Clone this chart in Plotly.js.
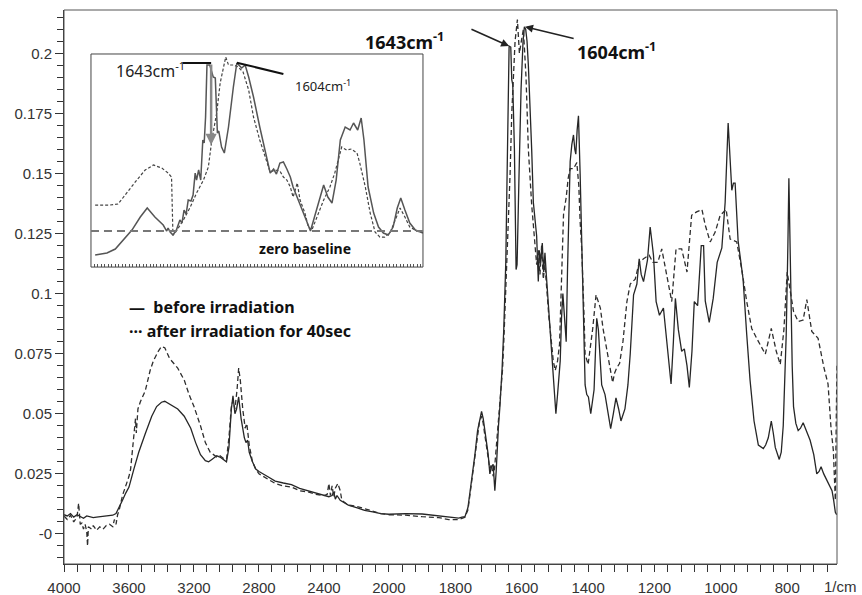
<!DOCTYPE html>
<html>
<head>
<meta charset="utf-8">
<script src="https://cdn.plot.ly/plotly-3.0.1.min.js"></script>
<style>html,body{margin:0;padding:0;background:#fff;}#chart{width:862px;height:595px;}</style>
</head>
<body>
<div id="chart"></div>
<script>
// ---- Main spectrum: before irradiation (solid) ----
const beforeWn = [4000,3980,3960,3940,3920,3900,3880,3860,3840,3820,3800,3780,3760,3740,3720,3700,3680,3660,3640,3620,3600,3570,3540,3500,3460,3430,3400,3380,3350,3300,3260,3220,3190,3160,3130,3110,3090,3060,3040,3020,3000,2985,2970,2960,2948,2938,2925,2910,2890,2880,2870,2860,2840,2820,2800,2750,2700,2650,2600,2550,2500,2450,2400,2370,2350,2340,2330,2320,2300,2250,2200,2150,2100,2050,2000,
1950,1900,1850,1800,1790,1780,1771,1762,1756,1748,1741,1733,1728,1721,1716,1711,1706,1701,1696,1691,1686,1683,1681,1677,1674,1670,1666,1662,1659,1654,1650,1648,1645,1641,1638,1633,1630,1627,1622,1617,1614,1608,1602,1596,1592,1588,1584,1580,1575,1570,1565,1560,1555,1550,1547,1543,1538,1534,1530,1526,1522,1518,1513,1508,1502,1497,1492,1487,1484,1480,1476,1471,1466,1462,1458,1454,1449,1444,1440,1437,1433,1429,1424,1419,1414,1409,1404,1399,1392,1386,1382,1378,1374,1369,1364,1359,1349,1340,1332,1324,1316,1308,1301,1289,1280,1273,1263,1253,1246,1240,1233,1221,1213,1208,1203,1195,1185,1173,1163,1156,1150,1143,1137,1128,1118,1110,1102,1095,1087,1080,1070,1059,1052,1047,1035,1023,1011,997,987,978,972,967,962,957,948,933,922,912,900,887,872,865,857,848,842,836,824,818,812,806,803,798,795,792,789,785,781,774,767,760,752,745,738,731,720,711,704,698,690,680,672,665,660,655,651];
const beforeAbs = [0.008,0.0075,0.0085,0.007,0.008,0.0072,0.0065,0.0075,0.007,0.0068,0.007,0.0072,0.0071,0.0073,0.0075,0.0078,0.0085,0.011,0.014,0.017,0.0195,0.027,0.034,0.0417,0.049,0.053,0.0548,0.0552,0.054,0.052,0.049,0.044,0.038,0.033,0.0305,0.030,0.031,0.0325,0.032,0.031,0.030,0.036,0.052,0.0575,0.050,0.052,0.057,0.048,0.040,0.038,0.039,0.034,0.030,0.027,0.026,0.024,0.022,0.0212,0.0205,0.019,0.018,0.017,0.016,0.0155,0.016,0.0175,0.0145,0.016,0.014,0.012,0.011,0.0098,0.0092,0.0085,0.0082,
0.0085,0.0083,0.0075,0.0068,0.0066,0.0070,0.0072,0.011,0.017,0.025,0.033,0.043,0.047,0.051,0.048,0.043,0.038,0.033,0.025,0.028,0.029,0.022,0.018,0.026,0.036,0.045,0.0525,0.060,0.069,0.0855,0.100,0.113,0.141,0.190,0.203,0.2026,0.189,0.187,0.160,0.110,0.112,0.150,0.185,0.205,0.211,0.210,0.205,0.195,0.179,0.160,0.138,0.130,0.124,0.105,0.118,0.113,0.121,0.109,0.117,0.108,0.100,0.094,0.082,0.070,0.058,0.050,0.058,0.066,0.072,0.090,0.100,0.090,0.080,0.110,0.140,0.155,0.162,0.166,0.160,0.158,0.168,0.174,0.150,0.124,0.090,0.062,0.058,0.057,0.050,0.055,0.060,0.075,0.0897,0.085,0.072,0.062,0.058,0.050,0.0438,0.050,0.0566,0.052,0.047,0.052,0.062,0.075,0.0995,0.104,0.1145,0.108,0.105,0.114,0.1277,0.122,0.116,0.0967,0.091,0.094,0.080,0.070,0.0624,0.080,0.098,0.085,0.076,0.077,0.070,0.061,0.076,0.0967,0.095,0.120,0.120,0.097,0.088,0.098,0.113,0.119,0.138,0.171,0.157,0.143,0.146,0.146,0.122,0.106,0.083,0.064,0.047,0.037,0.0355,0.037,0.040,0.047,0.042,0.036,0.031,0.034,0.045,0.070,0.083,0.120,0.148,0.125,0.097,0.070,0.053,0.046,0.043,0.044,0.0463,0.044,0.042,0.039,0.033,0.025,0.026,0.028,0.025,0.022,0.020,0.018,0.014,0.009,0.008];

// ---- Main spectrum: after irradiation for 40 sec (dashed) ----
const afterWn = [4000,3980,3960,3940,3920,3910,3900,3890,3880,3870,3860,3855,3850,3830,3820,3800,3780,3760,3740,3720,3700,3690,3680,3670,3660,3640,3620,3600,3590,3580,3570,3560,3555,3545,3530,3500,3470,3450,3420,3400,3380,3350,3300,3260,3230,3200,3160,3130,3100,3080,3060,3040,3020,3000,2985,2970,2960,2948,2935,2925,2915,2900,2885,2875,2860,2840,2820,2800,2750,2700,2650,2600,2550,2500,2450,2400,2380,2370,2360,2350,2340,2330,2315,2300,2290,2250,2200,2150,2100,2050,2000,
1950,1900,1850,1820,1800,1790,1780,1771,1762,1756,1748,1741,1733,1728,1721,1716,1711,1706,1701,1696,1691,1686,1682,1677,1674,1670,1666,1662,1658,1654,1650,1645,1640,1635,1630,1625,1620,1613,1607,1600,1595,1587,1580,1570,1560,1555,1550,1545,1540,1535,1530,1524,1518,1512,1505,1499,1492,1486,1479,1474,1466,1460,1454,1444,1434,1428,1424,1419,1412,1409,1400,1393,1386,1376,1369,1363,1355,1345,1335,1326,1320,1314,1305,1295,1283,1273,1258,1246,1233,1216,1205,1190,1178,1163,1148,1135,1118,1102,1088,1073,1057,1047,1032,1017,1002,984,972,952,937,922,907,892,866,848,833,821,810,800,795,781,767,752,741,726,707,689,677,668,661,655,652,650];
const afterAbs = [0.0075,0.006,0.0078,0.005,0.007,0.0128,0.004,0.0045,0.002,0.004,0.001,-0.005,0.003,0.002,0.0035,0.0015,0.003,0.002,0.0035,0.004,0.003,0.006,0.004,0.008,0.010,0.016,0.020,0.024,0.027,0.034,0.040,0.048,0.042,0.052,0.055,0.0595,0.068,0.072,0.076,0.078,0.0775,0.073,0.069,0.064,0.058,0.053,0.045,0.038,0.034,0.033,0.032,0.0325,0.0315,0.031,0.040,0.053,0.0555,0.052,0.060,0.069,0.064,0.052,0.044,0.046,0.037,0.030,0.027,0.025,0.023,0.021,0.020,0.0195,0.018,0.0175,0.0165,0.016,0.0165,0.021,0.016,0.020,0.0155,0.019,0.021,0.018,0.014,0.012,0.0115,0.0105,0.0095,0.0085,0.008,
0.0078,0.0072,0.0068,0.006,0.0062,0.0060,0.0065,0.0070,0.010,0.016,0.024,0.032,0.041,0.046,0.049,0.046,0.041,0.036,0.030,0.027,0.029,0.024,0.027,0.035,0.040,0.048,0.055,0.060,0.068,0.080,0.095,0.110,0.125,0.150,0.175,0.189,0.205,0.214,0.200,0.206,0.210,0.190,0.160,0.137,0.118,0.112,0.118,0.108,0.120,0.106,0.112,0.100,0.090,0.082,0.072,0.068,0.072,0.079,0.106,0.133,0.140,0.148,0.152,0.152,0.1545,0.145,0.130,0.118,0.090,0.0748,0.0705,0.078,0.0855,0.0995,0.096,0.094,0.0855,0.078,0.070,0.063,0.067,0.069,0.071,0.080,0.0967,0.104,0.106,0.113,0.1145,0.116,0.113,0.113,0.1186,0.108,0.0967,0.1186,0.1186,0.109,0.1326,0.134,0.135,0.1285,0.1215,0.1256,0.1326,0.135,0.1227,0.1215,0.110,0.0967,0.0855,0.0814,0.0748,0.0855,0.076,0.0705,0.085,0.109,0.105,0.0926,0.0884,0.089,0.0975,0.0843,0.0814,0.069,0.0624,0.044,0.0347,0.014,0.050,0.070];

// ---- Inset (enlarged C=C / C=O region, relative to zero baseline) ----
const insetBeforeWn = [1809,1800,1792,1780,1768,1756,1744,1734,1723,1711,1706,1704,1701,1697,1692,1687,1684,1681,1678,1675,1671,1668,1665,1663,1660,1657,1654,1652,1650,1648,1644,1639,1636,1633,1631,1627,1623,1617,1610,1605,1598,1593,1588,1581,1572,1564,1557,1552,1548,1543,1538,1533,1528,1524,1518,1512,1504,1499,1492,1485,1480,1474,1468,1462,1456,1449,1442,1437,1431,1426,1422,1416,1408,1401,1394,1387,1380,1374,1369,1363,1356,1348,1341,1337];
const insetBeforeAbs = [-0.24,-0.23,-0.22,-0.18,-0.09,0.01,0.14,0.23,0.14,0.06,0.00,0.03,-0.01,-0.04,0.01,0.11,0.08,0.21,0.17,0.31,0.30,0.36,0.58,0.51,0.61,0.51,0.91,0.88,1.14,1.66,1.66,1.54,1.53,0.98,1.00,0.84,0.78,1.04,1.44,1.68,1.63,1.66,1.54,1.34,1.04,0.81,0.58,0.62,0.57,0.68,0.69,0.62,0.54,0.44,0.34,0.24,0.09,0.00,0.18,0.34,0.46,0.34,0.28,0.51,0.91,1.04,1.01,1.08,1.01,1.13,0.91,0.44,0.18,0.04,-0.02,-0.04,0.04,0.23,0.33,0.21,0.08,0.01,-0.01,-0.02];
const insetAfterWn = [1809,1788,1776,1764,1749,1737,1725,1713,1704,1699,1697,1692,1682,1672,1663,1653,1646,1641,1634,1629,1624,1621,1617,1610,1603,1596,1588,1581,1572,1562,1557,1550,1543,1538,1533,1528,1524,1518,1514,1507,1502,1497,1490,1480,1471,1464,1459,1454,1447,1440,1432,1428,1420,1413,1406,1399,1392,1384,1377,1370,1363,1356,1348,1341,1337];
const insetAfterAbs = [0.26,0.26,0.27,0.38,0.51,0.61,0.66,0.63,0.58,0.54,-0.04,0.00,0.11,0.24,0.38,0.51,0.64,0.91,1.18,1.48,1.64,1.74,1.66,1.66,1.64,1.59,1.41,1.14,0.91,0.68,0.59,0.61,0.60,0.54,0.51,0.44,0.34,0.48,0.31,0.18,0.04,0.01,0.14,0.31,0.44,0.58,0.71,0.84,0.81,0.82,0.78,0.68,0.44,0.18,-0.01,-0.06,-0.06,-0.01,0.11,0.23,0.14,0.04,0.01,-0.01,-0.01];

// ---- Ticks ----
const xLeftTicks = [4000,3600,3200,2800,2400,2000];
const xRightTicks = [1800,1600,1400,1200,1000,800];
const yTickVals = [0,0.025,0.05,0.075,0.1,0.125,0.15,0.175,0.2];
const yTickText = ['-0','0.025','0.05','0.075','0.1','0.125','0.15','0.175','0.2'];

const BREAK = 2000;
function part(wn, ab, left){
  const xs=[], ys=[];
  wn.forEach((w,i)=>{ if(left ? w>=BREAK : w<=BREAK){ xs.push(w); ys.push(ab[i]); } });
  return {x:xs, y:ys};
}
const solidLine = {color:'#262626', width:1.3};
const dashLine = {color:'#2e2e2e', width:1.3, dash:'5px,3px'};
const bL = part(beforeWn, beforeAbs, true), bR = part(beforeWn, beforeAbs, false);
const aL = part(afterWn, afterAbs, true), aR = part(afterWn, afterAbs, false);

const traces = [
  {x:bL.x, y:bL.y, xaxis:'x', yaxis:'y', mode:'lines', name:'before irradiation', line:solidLine},
  {x:bR.x, y:bR.y, xaxis:'x2', yaxis:'y', mode:'lines', name:'before irradiation', line:solidLine},
  {x:aL.x, y:aL.y, xaxis:'x', yaxis:'y', mode:'lines', name:'after irradiation for 40sec', line:dashLine},
  {x:aR.x, y:aR.y, xaxis:'x2', yaxis:'y', mode:'lines', name:'after irradiation for 40sec', line:dashLine},
  {x:insetAfterWn, y:insetAfterAbs, xaxis:'x3', yaxis:'y3', mode:'lines', line:{color:'#444', width:1.2, dash:'3px,2px'}},
  {x:insetBeforeWn, y:insetBeforeAbs, xaxis:'x3', yaxis:'y3', mode:'lines', line:{color:'#555', width:1.5}}
];

const splitFrac = 0.4204;
const tickFont = {family:'Liberation Sans, Arial, sans-serif', size:15, color:'#333'};
const axBase = {showgrid:false, zeroline:false, showline:true, linecolor:'#333', linewidth:1,
  ticks:'outside', ticklen:7, tickcolor:'#333', tickfont:tickFont};

const lab = 'Noto Sans, sans-serif';
const layout = {
  width:862, height:595,
  margin:{l:64, r:25, t:10, b:31},
  paper_bgcolor:'#fff', plot_bgcolor:'rgba(0,0,0,0)',
  showlegend:false,
  xaxis: Object.assign({}, axBase, {domain:[0,splitFrac], range:[4000,2000], anchor:'y', tickmode:'array', tickvals:xLeftTicks, ticklabelstandoff:3,
    minor:{dtick:80, tick0:0, ticks:'outside', ticklen:7, tickcolor:'#333', showgrid:false}}),
  xaxis2: Object.assign({}, axBase, {domain:[splitFrac,1], range:[2000,650], anchor:'y', tickmode:'array', tickvals:xRightTicks, ticklabelstandoff:3,
    minor:{dtick:40, tick0:0, ticks:'outside', ticklen:7, tickcolor:'#333', showgrid:false}}),
  yaxis: Object.assign({}, axBase, {domain:[0,1], range:[-0.0125,0.218], anchor:'x', tickmode:'array', tickvals:yTickVals, ticktext:yTickText, ticklen:8,
    minor:{dtick:0.005, tick0:0, ticks:'outside', ticklen:6, tickcolor:'#333', showgrid:false}}),
  xaxis3: {domain:[0.0349,0.4644], range:[1815,1337], anchor:'y3', showticklabels:false, showgrid:false, zeroline:false, showline:false,
    ticks:'inside', ticklen:3, tickcolor:'#555', tickmode:'linear', tick0:0, dtick:5},
  yaxis3: {domain:[0.536,0.9206], range:[-0.36,1.77], anchor:'x3', showticklabels:false, showgrid:false, zeroline:false, showline:false, ticks:''},
  shapes:[
    {type:'rect', xref:'paper', yref:'paper', x0:0, x1:1, y0:0, y1:1, line:{color:'#555', width:1}, fillcolor:'rgba(0,0,0,0)', layer:'above'},
    {type:'rect', xref:'paper', yref:'paper', x0:0.0349, x1:0.4644, y0:0.536, y1:0.9206, line:{color:'#444', width:1}, fillcolor:'rgba(0,0,0,0)', layer:'above'},
    {type:'line', xref:'x3', yref:'y3', x0:1815, x1:1337, y0:0, y1:0, line:{color:'#777', width:2, dash:'8px,5px'}},
    {type:'line', xref:'x3', yref:'y3', x0:1683, x1:1642, y0:1.68, y1:1.68, line:{color:'#111', width:2}},
    {type:'line', xref:'x3', yref:'y3', x0:1605, x1:1538, y0:1.683, y1:1.57, line:{color:'#111', width:2}}
  ],
  annotations:[
    {xref:'x2', yref:'y', x:1952, y:0.205, text:'<b>1643cm<sup>-1</sup></b>', showarrow:false, xanchor:'center', yanchor:'middle', font:{family:lab, size:18, color:'#111'}},
    {xref:'x2', yref:'y', x:1638, y:0.203, axref:'x2', ayref:'y', ax:1756, ay:0.2103, text:'', showarrow:true, arrowhead:2, arrowsize:1, arrowwidth:1.6, arrowcolor:'#222'},
    {xref:'x2', yref:'y', x:1313, y:0.2008, text:'<b>1604cm<sup>-1</sup></b>', showarrow:false, xanchor:'center', yanchor:'middle', font:{family:lab, size:18, color:'#111'}},
    {xref:'x2', yref:'y', x:1590, y:0.211, axref:'x2', ayref:'y', ax:1439, ay:0.206, text:'', showarrow:true, arrowhead:2, arrowsize:1, arrowwidth:1.6, arrowcolor:'#222'},
    {xref:'x', yref:'y', x:3612, y:0.0946, text:'<b>—  before irradiation</b>', showarrow:false, xanchor:'left', yanchor:'middle', font:{family:lab, size:16, color:'#111'}},
    {xref:'x', yref:'y', x:3612, y:0.0843, text:'<b>··· after irradiation for 40sec</b>', showarrow:false, xanchor:'left', yanchor:'middle', font:{family:lab, size:16, color:'#111'}},
    {xref:'paper', yref:'paper', x:1.0285, y:-0.041, text:'1/cm', showarrow:false, xanchor:'right', yanchor:'middle', font:tickFont},
    {xref:'x3', yref:'y3', x:1730, y:1.61, text:'1643cm<sup>-1</sup>', showarrow:false, xanchor:'center', yanchor:'middle', font:{family:lab, size:16, color:'#222'}},
    {xref:'x3', yref:'y3', x:1642, y:0.86, axref:'x3', ayref:'y3', ax:1642, ay:1.68, text:'', showarrow:true, arrowhead:2, arrowsize:0.9, arrowwidth:2.5, arrowcolor:'#888'},
    {xref:'x3', yref:'y3', x:1481, y:1.45, text:'1604cm<sup>-1</sup>', showarrow:false, xanchor:'center', yanchor:'middle', font:{family:lab, size:13, color:'#222'}},
    {xref:'x3', yref:'y3', x:1507, y:-0.17, text:'<b>zero baseline</b>', showarrow:false, xanchor:'center', yanchor:'middle', font:{family:lab, size:14, color:'#111'}}
  ]
};

Plotly.newPlot('chart', traces, layout, {staticPlot:true, displayModeBar:false});
</script>
</body>
</html>
